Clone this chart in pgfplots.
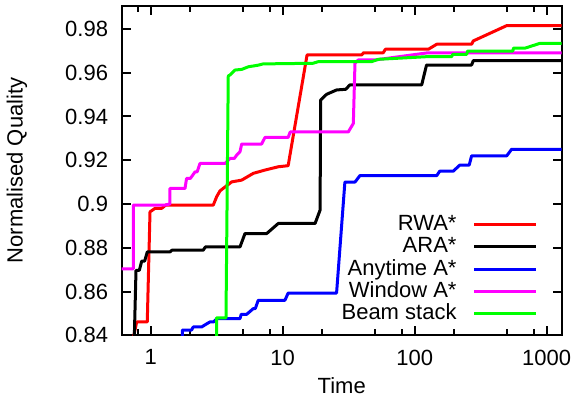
\documentclass[border=0pt]{standalone}
\usepackage{fontspec}
\setmainfont{Liberation Sans}
\usepackage{pgfplots}
\pgfplotsset{compat=1.18}

\begin{document}
\begin{tikzpicture}[font=\fontsize{11}{13}\selectfont]
\begin{axis}[
  name=ax,
  scale only axis,
  width=220pt, height=164.8pt,
  xmode=log, log basis x=10,
  xmin=0.603, xmax=1300,
  ymin=0.84, ymax=0.9906,
  xtick={1,10,100,1000},
  xticklabels={1,10,100,1000},
  minor xtick={0.8,2,5,8,20,50,80,200,500,800},
  ytick={0.84,0.86,0.88,0.9,0.92,0.94,0.96,0.98},
  yticklabels={0.84,0.86,0.88,0.9,0.92,0.94,0.96,0.98},
  tick align=inside,
  major tick length=4.5pt, minor tick length=3pt,
  axis line style={line width=1pt},
  every tick/.style={line width=1pt, black},
  yticklabel style={xshift=-3.3pt},
  xticklabel style={yshift=-3.7pt},
  xlabel={Time},
  ylabel={Normalised Quality},
  xlabel style={at={(axis description cs:0.5,-0.154)}, anchor=center},
  ylabel style={at={(axis description cs:-0.238,0.5)}, anchor=center, rotate=0},
  legend plot pos=right,
  legend cell align=right,
  legend image code/.code={\draw[#1] (0pt,0pt) -- (31pt,0pt);},
  legend style={at={(axis description cs:0.946,0.03)}, anchor=south east,
    draw=none, fill=none, inner sep=0pt, row sep=0pt,
    nodes={inner ysep=0.6pt, text height=8pt, text depth=2pt},
    /tikz/every odd column/.append style={column sep=6pt}},
  every axis plot/.append style={line width=1.5pt, line join=round},
]
% RWA*
\addplot[color={rgb,255:red,255;green,0;blue,0}] coordinates {
(0.69,0.83) (0.783,0.8461) (0.942,0.8461) (0.988,0.8964) (1.078,0.898)
(1.211,0.898) (1.3,0.8995) (2.98,0.8995) (3.16,0.9033) (3.35,0.9060)
(4.11,0.9101) (4.89,0.9109) (5.99,0.9140) (7.34,0.9155) (9.26,0.9170)
(11.0,0.9175) (15.3,0.9681) (39.7,0.9681) (41,0.9691) (57.8,0.9691)
(60,0.9707) (127,0.9707) (147,0.9730) (270,0.9730) (278,0.9745)
(498,0.9815) (1300,0.9815)};
\addlegendentry{RWA*}
% ARA*
\addplot[color=black] coordinates {
(0.745,0.83) (0.774,0.8697) (0.82,0.8697) (0.855,0.8739) (0.90,0.8739)
(0.942,0.8781) (1.40,0.8781) (1.45,0.8789) (2.5,0.8789) (2.6,0.8804)
(4.75,0.8804) (5.18,0.8865) (7.57,0.8865) (9.26,0.8911) (17.6,0.8911)
(19.2,0.8972) (19.4,0.9475) (21.5,0.9501) (25.6,0.9521) (30,0.9524)
(32.3,0.9544) (113,0.9544) (123,0.9635) (270,0.9635) (278,0.9655)
(1300,0.9655)};
\addlegendentry{ARA*}
% Anytime A*
\addplot[color={rgb,255:red,0;green,0;blue,255}] coordinates {
(1.74,0.83) (1.74,0.8424) (2.04,0.8424) (2.1,0.8438) (2.43,0.8438)
(2.6,0.8449) (2.81,0.8461) (3.0,0.8461) (3.16,0.8476) (4.75,0.8476)
(4.85,0.8496) (5.34,0.8496) (5.99,0.8522) (6.2,0.8522) (6.53,0.8560)
(10.4,0.8560) (11.0,0.8593) (25.6,0.8593) (29.6,0.9100) (35.3,0.9100)
(38.5,0.9130) (147,0.9130) (155,0.9150) (196,0.9150) (220,0.9178)
(259,0.9178) (270,0.9220) (498,0.9220) (543,0.9250) (1300,0.9250)};
\addlegendentry{Anytime A*}
% Window A*
\addplot[color={rgb,255:red,255;green,0;blue,255}] coordinates {
(0.6,0.8704) (0.738,0.8704) (0.738,0.8995) (1.28,0.8995) (1.40,0.9000)
(1.40,0.9071) (1.82,0.9071) (1.87,0.9117) (2.0,0.9117) (2.17,0.9147)
(2.25,0.9147) (2.36,0.9185) (3.66,0.9185) (3.99,0.9208) (4.3,0.9208)
(4.48,0.9223) (4.75,0.9239) (4.89,0.9274) (6.93,0.9274) (7.34,0.9304)
(11.0,0.9304) (11.4,0.9329) (31.4,0.9329) (34.3,0.9368) (35.3,0.9643)
(37.4,0.9658) (50,0.9658) (123,0.9690) (1300,0.9690)};
\addlegendentry{Window A*}
% Beam stack
\addplot[color={rgb,255:red,0;green,255;blue,0}] coordinates {
(3.16,0.83) (3.16,0.848) (3.72,0.848) (3.87,0.9585) (4.0,0.959)
(4.35,0.9612) (4.9,0.9615) (5.5,0.9627) (6.5,0.9634) (7.1,0.9640)
(17,0.9643) (18.5,0.9650) (47,0.9650) (53,0.9661) (123,0.9673)
(190,0.9673) (195,0.9684) (248,0.9684) (252,0.9699) (555,0.9699)
(560,0.9712) (685,0.9712) (890,0.9734) (1300,0.9734)};
\addlegendentry{Beam stack}
\end{axis}
\pgfresetboundingbox
\path[use as bounding box] ([shift={(-60.85pt,-32.85pt)}]ax.south west) rectangle ([shift={(7.65pt,2.85pt)}]ax.north east);
\end{tikzpicture}
\end{document}
